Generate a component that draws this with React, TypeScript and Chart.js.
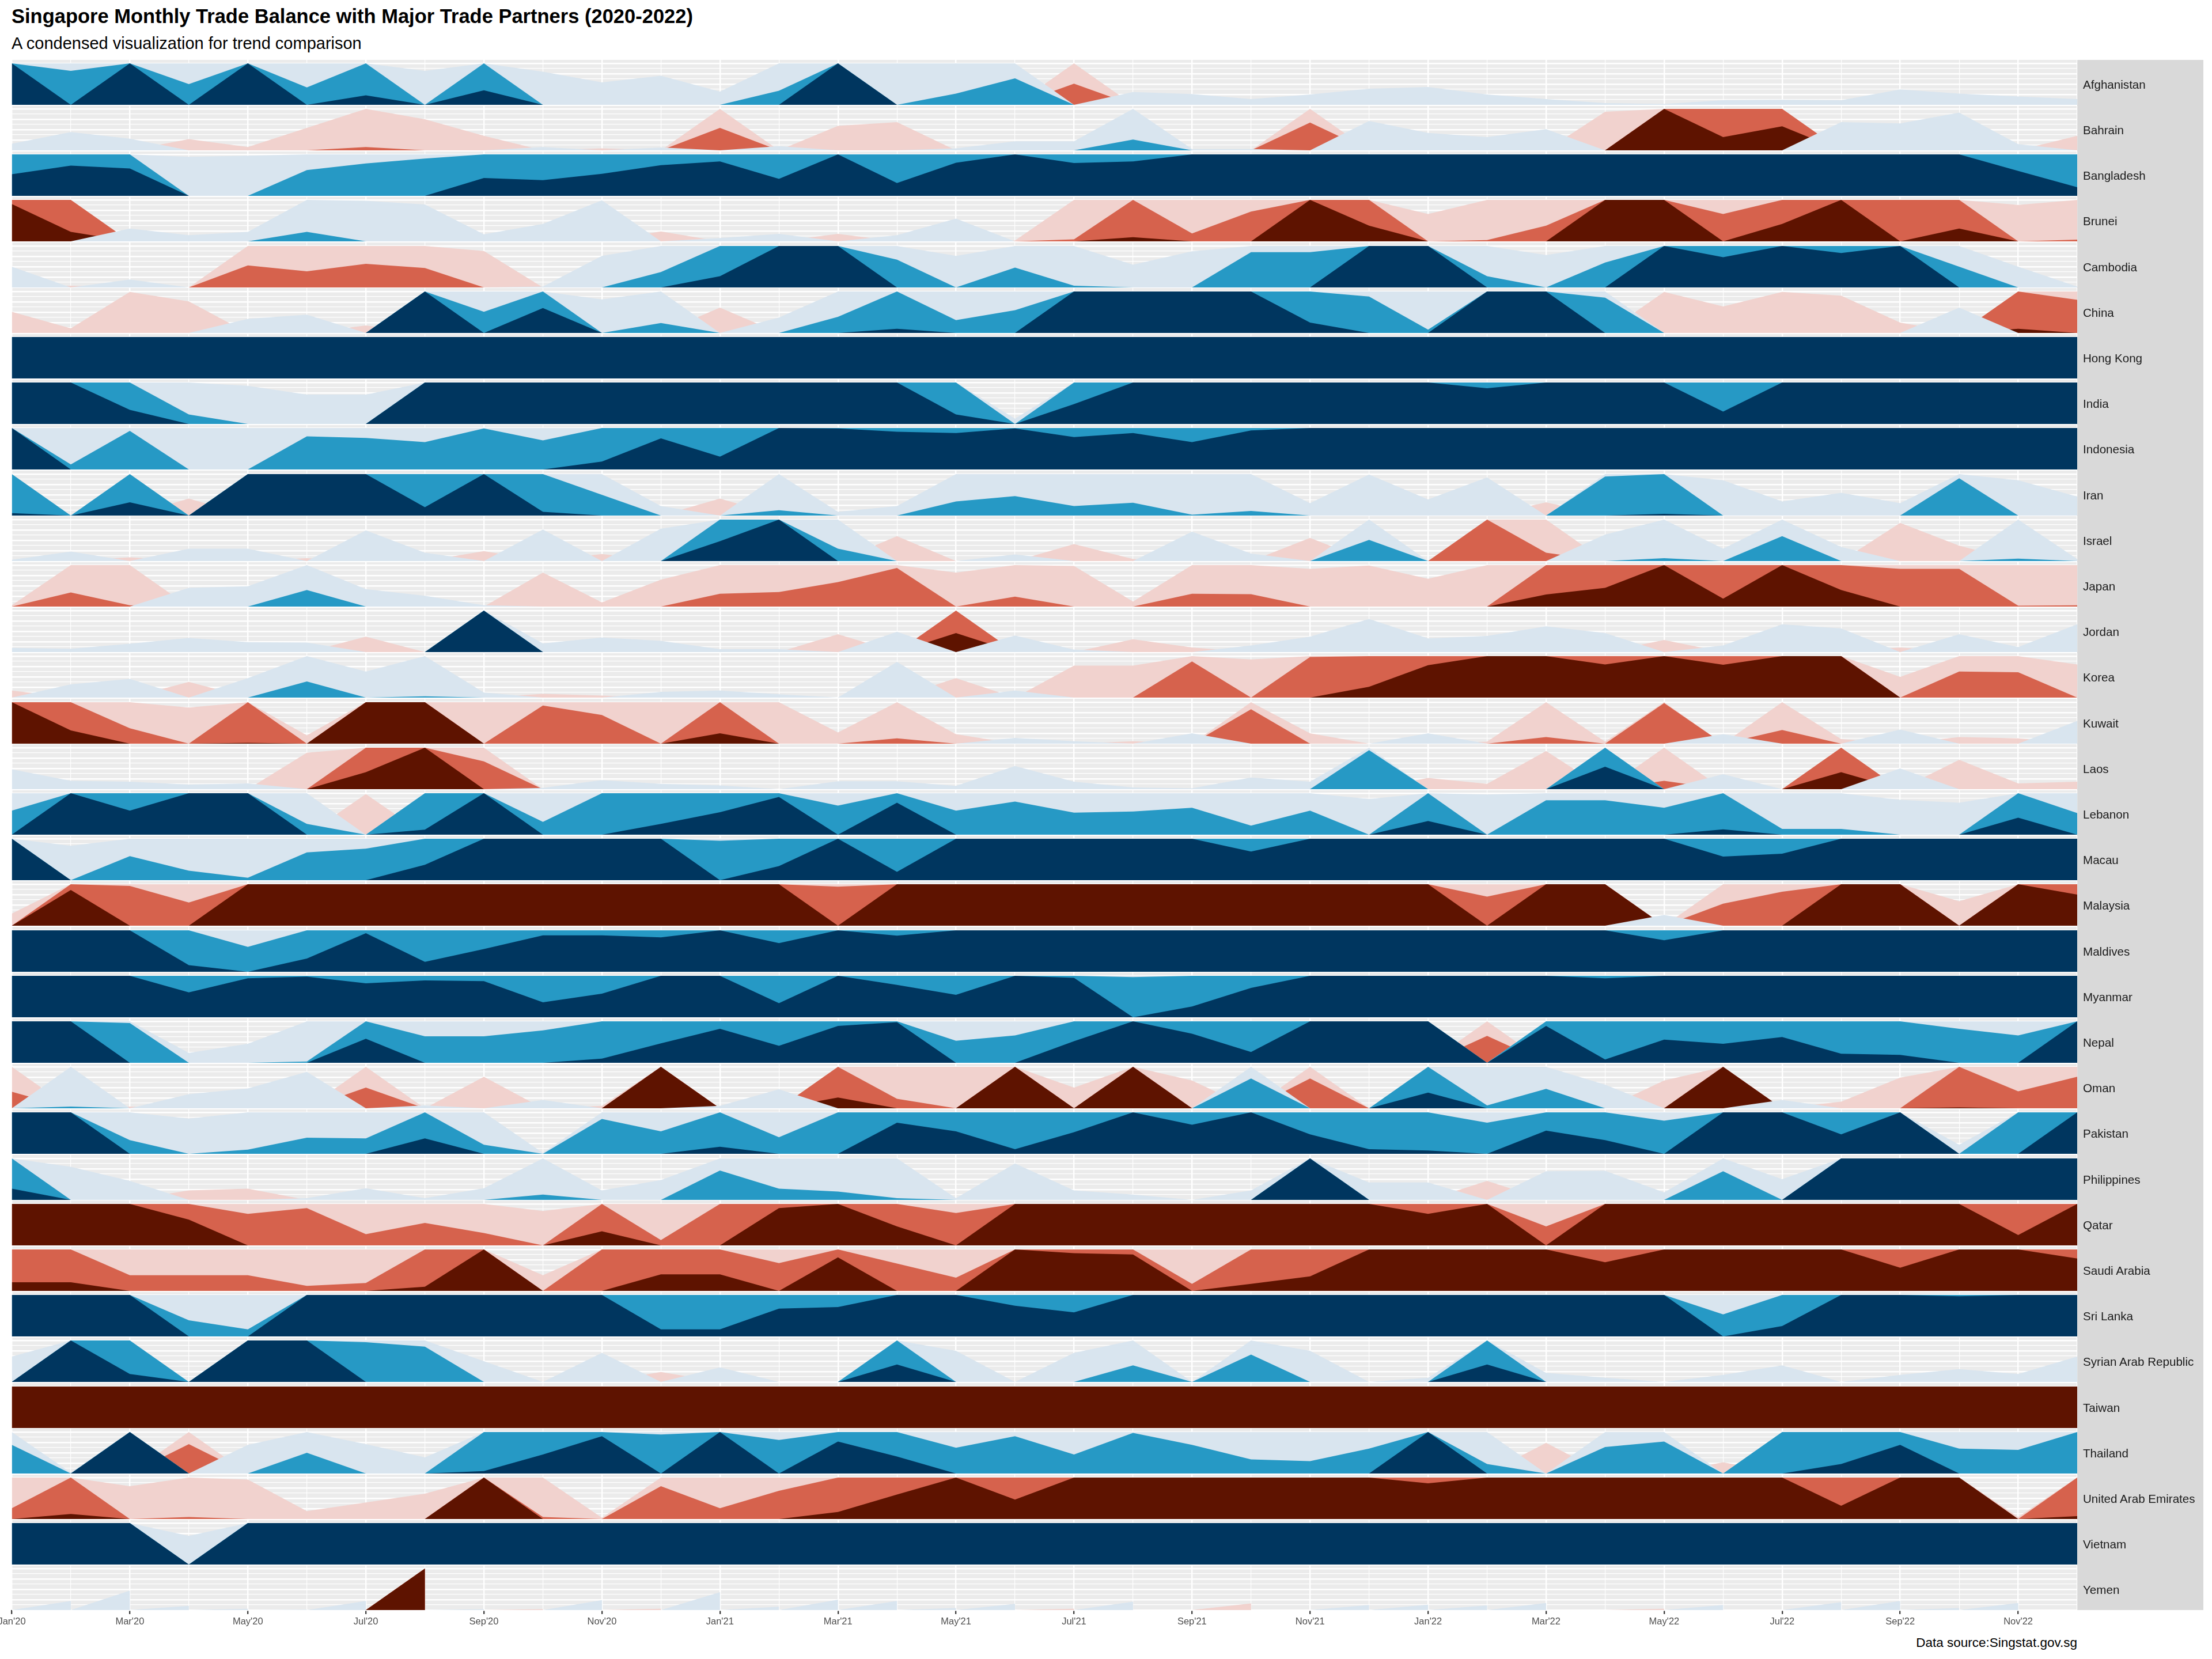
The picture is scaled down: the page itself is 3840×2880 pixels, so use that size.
import { useEffect, useRef } from 'react';
import { Chart, registerables } from 'chart.js';

Chart.register(...registerables);

const FONT = "'Liberation Sans', Arial, Helvetica, sans-serif";
Chart.defaults.font.family = FONT;

// one point per month, Jan'20 .. Dec'22
const monthLabels = [
  "Jan'20", "Feb'20", "Mar'20", "Apr'20", "May'20", "Jun'20", "Jul'20", "Aug'20", "Sep'20", "Oct'20", "Nov'20", "Dec'20",
  "Jan'21", "Feb'21", "Mar'21", "Apr'21", "May'21", "Jun'21", "Jul'21", "Aug'21", "Sep'21", "Oct'21", "Nov'21", "Dec'21",
  "Jan'22", "Feb'22", "Mar'22", "Apr'22", "May'22", "Jun'22", "Jul'22", "Aug'22", "Sep'22", "Oct'22", "Nov'22", "Dec'22",
];

const tickLabels = [
  "Jan'20", "Mar'20", "May'20", "Jul'20", "Sep'20", "Nov'20",
  "Jan'21", "Mar'21", "May'21", "Jul'21", "Sep'21", "Nov'21",
  "Jan'22", "Mar'22", "May'22", "Jul'22", "Sep'22", "Nov'22",
];

// trade balance per month in horizon band units (+ surplus / - deficit, |v| >= 3 is the top band)
const afghanistan = [3, 1.82, 3, 1.5, 3, 1.42, 2.23, 0.82, 2.35, 0.8, 0.54, 0.7, 0.32, 1.34, 3, 1.0, 1.27, 1.64, -1.51, 0.31, 0.26, 0.14, 0.25, 0.39, 0.43, 0.25, 0.14, 0.04, 0.02, 0.11, 0.12, 0.11, 0.37, 0.27, 0.2, 0.14];
const bahrain = [0.16, 0.44, 0.28, -0.27, -0.08, -0.54, -1.08, -0.75, -0.35, 0.08, -0.05, 0.07, -1.54, 0.1, -0.59, -0.68, 0.05, 0.22, 0.22, 1.26, 0.03, 0.03, -1.67, 0.71, 0.42, 0.32, 0.51, -0.93, -3, -2.32, -2.58, 0.68, 0.65, 0.91, 0.15, -0.35];
const bangladesh = [2.52, 2.73, 2.66, 0.94, 0.97, 1.62, 1.78, 1.9, 2.43, 2.38, 2.53, 2.74, 2.83, 2.41, 3, 2.31, 2.8, 3, 2.79, 2.83, 3, 3, 3, 3, 3, 3, 3, 3, 3, 3, 3, 3, 3, 3, 2.6, 2.21];
const brunei = [-2.9, -2.23, 0.31, 0.15, 0.23, 1.23, 0.98, 0.89, 0.17, 0.42, 0.99, -0.24, 0.08, 0.18, -0.18, 0.15, 0.55, -0.02, -1.05, -2.1, -1.19, -1.72, -3, -2.38, -0.66, -1.03, -1.38, -3, -3, -1.66, -2.42, -3, -2.0, -2.31, -0.88, -1.04];
const cambodia = [0.5, -0.04, 0.19, 0.0, -1.53, -1.39, -1.57, -1.47, -0.88, 0.02, 0.76, 1.37, 2.27, 3, 3, 1.67, 0.76, 1.48, 1.04, 0.55, 0.87, 1.85, 1.85, 3, 3, 1.27, 0.78, 1.6, 3, 2.73, 3, 2.83, 3, 1.5, 0.5, 0.02];
const china = [-0.51, -0.11, -0.99, -0.76, 0.34, 0.44, -0.18, 3, 1.51, 2.6, 0.81, 1.24, -0.61, 0.37, 1.39, 2.1, 1.31, 1.55, 3, 3, 3, 3, 2.25, 1.88, 1.08, 3, 3, 1.85, -0.99, -0.64, -0.99, -0.9, -0.25, 0.61, -2.1, -1.8];
const hongKong = [3, 3, 3, 3, 3, 3, 3, 3, 3, 3, 3, 3, 3, 3, 3, 3, 3, 3, 3, 3, 3, 3, 3, 3, 3, 3, 3, 3, 3, 3, 3, 3, 3, 3, 3, 3];
const india = [3, 3, 2.34, 1.23, 0.92, 0.71, 0.71, 3, 3, 3, 3, 3, 3, 3, 3, 3, 2.23, 0.13, 2.48, 3, 3, 3, 3, 3, 3, 2.86, 3, 3, 3, 2.3, 3, 3, 3, 3, 3, 3];
const indonesia = [3, 1.12, 1.93, 1.0, 1.0, 1.8, 1.76, 1.66, 1.99, 1.7, 2.19, 2.75, 2.31, 3, 2.99, 2.91, 2.88, 2.99, 2.78, 2.88, 2.66, 2.94, 3, 3, 3, 3, 3, 3, 3, 3, 3, 3, 3, 3, 3, 3];
const iran = [2.06, 0.0, 2.32, -0.41, 3, 3, 3, 2.2, 3, 2.09, 1.5, 0.23, -0.41, 1.13, 0.09, 0.23, 1.34, 1.47, 1.23, 1.31, 1.02, 1.11, 0.3, 0.99, 0.39, 0.92, -0.32, 1.94, 2.04, 0.85, 0.34, 0.55, 0.3, 1.9, 0.85, 0.46];
const israel = [0.03, 0.23, -0.09, 0.3, 0.3, -0.07, 0.74, 0.2, -0.24, 0.76, -0.17, 0.78, 2.48, 3, 1.3, -0.6, 0.0, 0.16, -0.41, -0.05, 0.71, 0.18, -0.56, 1.51, 0.0, -2.0, -1.2, 0.64, 1.07, 0.3, 1.6, 0.34, -0.92, -0.37, 1.06, 0.05];
const japan = [-0.03, -1.34, -1.03, 0.45, 0.49, 1.4, 0.42, 0.26, 0.03, -0.82, -0.1, -0.65, -1.31, -1.35, -1.59, -1.93, -0.82, -1.24, -0.98, -0.12, -1.31, -1.3, -0.91, -0.99, -0.67, -1.0, -2.29, -2.45, -3, -2.19, -3, -2.4, -1.91, -1.91, -1.02, -1.03];
const jordan = [0.1, 0.08, 0.2, 0.34, 0.24, 0.23, -0.37, 0.0, 3, 0.21, 0.35, 0.27, 0.07, 0.07, -0.43, 0.49, -2.46, 0.4, 0.06, -0.31, -0.11, 0.16, 0.37, 0.8, 0.33, 0.39, 0.62, 0.46, -0.29, 0.16, 0.67, 0.57, -0.11, 0.43, 0.12, 0.67];
const korea = [-0.17, 0.32, 0.45, -0.38, 0.47, 1.39, 0.63, 1.03, 0.12, -0.09, -0.05, 0.14, 0.17, 0.08, 0.0, 0.86, -0.47, 0.17, -0.77, -0.77, -1.87, -0.92, -1.98, -2.26, -2.78, -3, -3, -2.8, -3, -2.79, -3, -3, -0.5, -1.63, -1.61, -0.8];
const kuwait = [-3, -2.32, -1.37, -0.87, -2.02, -0.2, -3, -3, -1.0, -1.92, -1.69, -1.0, -2.25, -1.0, -0.27, -1.13, -0.23, 0.14, 0.06, -0.06, 0.25, -1.83, -0.25, 0.0, 0.25, -0.05, -1.16, -0.05, -1.98, 0.23, -1.33, -0.11, 0.34, -0.16, -0.13, 0.55];
const laos = [0.48, 0.2, 0.18, 0.11, 0.14, -0.88, -2.41, -3, -1.67, 0.03, 0.22, 0.13, 0.09, 0.0, 0.19, 0.19, 0.08, 0.56, 0.18, 0.04, 0.02, 0.28, 0.18, 1.94, -0.27, -0.13, -0.92, 2.54, -1.2, 0.36, 0.0, -2.41, 0.5, -0.71, -0.14, -0.18];
const lebanon = [1.58, 3, 2.58, 3, 3, 1.26, -0.98, 2.12, 3, 1.31, 2.0, 2.26, 2.54, 2.91, 1.7, 2.77, 1.58, 1.8, 1.53, 1.56, 1.65, 1.22, 1.58, 0.86, 2.33, 0.97, 1.83, 1.83, 1.65, 2.13, 1.14, 1.14, 0.84, 0.77, 2.41, 1.52];
const macau = [3, 0.83, 1.58, 1.23, 1.06, 1.67, 1.76, 2.37, 3, 3, 3, 3, 1.95, 2.34, 3, 2.2, 3, 3, 3, 3, 3, 2.69, 3, 3, 3, 3, 3, 3, 3, 2.57, 2.64, 3, 3, 3, 3, 3];
const malaysia = [-0.29, -2.86, -1.96, -1.56, -3, -3, -3, -3, -3, -3, -3, -3, -3, -3, -1.94, -3, -3, -3, -3, -3, -3, -3, -3, -3, -3, -1.7, -3, -3, 0.26, -1.53, -1.82, -3, -3, -0.59, -3, -2.75];
const maldives = [3, 3, 3, 2.16, 1.6, 2.32, 2.93, 2.24, 2.55, 2.88, 2.88, 2.83, 3, 2.69, 3, 2.87, 3, 3, 3, 3, 3, 3, 3, 3, 3, 3, 3, 3, 2.76, 3, 3, 3, 3, 3, 3, 3];
const myanmar = [3, 3, 3, 2.6, 2.94, 2.98, 2.82, 2.89, 2.87, 2.36, 2.57, 3, 3, 2.34, 3, 2.78, 2.54, 3, 2.95, 1.97, 2.26, 2.71, 3, 3, 3, 3, 3, 2.94, 3, 3, 3, 3, 3, 3, 3, 3];
const nepal = [3, 3, 1.96, 0.24, 0.46, 1.03, 2.58, 1.64, 1.64, 1.78, 2.1, 2.47, 2.82, 2.41, 2.89, 2.98, 1.53, 1.66, 2.52, 3, 2.7, 2.26, 3, 3, 3, -1.65, 2.89, 2.08, 2.56, 2.46, 2.62, 2.22, 2.19, 1.82, 1.66, 3];
const oman = [-1.4, 1.04, -0.04, 0.34, 0.48, 0.88, -1.5, 0.07, -0.76, 0.2, -0.06, -3, 0.06, 0.46, -2.26, -1.23, -1.0, -3, -0.5, -3, -0.67, 1.72, -1.72, 0.0, 2.38, 1.07, 1.47, 0.57, -0.67, -3, 0.2, -0.16, -0.74, -2.02, -1.41, -1.76];
const pakistan = [3, 3, 1.33, 0.85, 1.1, 1.39, 1.37, 2.37, 1.22, 0.02, 1.84, 1.54, 2.17, 1.4, 2.0, 2.75, 2.54, 2.11, 2.52, 3, 2.7, 3, 2.47, 2.11, 2.08, 1.75, 2.56, 2.33, 1.8, 3, 3, 2.47, 3, 0.22, 2.0, 3];
const philippines = [2.27, 0.8, 0.46, -0.23, -0.27, 0.04, 0.28, 0.04, 0.28, 1.13, 0.23, 0.48, 1.71, 1.27, 1.2, 1.04, 0.04, 0.88, 0.23, 0.13, 0.0, 0.23, 3, 0.42, 0.42, -0.46, 0.69, 0.7, 0.18, 1.69, 0.5, 3, 3, 3, 3, 3];
const qatar = [-3, -3, -3, -2.62, -1.76, -1.9, -1.27, -1.54, -1.3, -0.83, -2.34, -1.13, -2.0, -2.9, -3, -2.46, -1.78, -3, -3, -3, -3, -3, -3, -3, -2.76, -3, -1.46, -3, -3, -3, -3, -3, -3, -3, -2.25, -3];
const saudiArabia = [-2.21, -2.21, -1.38, -1.38, -1.38, -1.12, -1.19, -2.1, -3, -0.38, -2.0, -2.4, -2.4, -1.67, -2.81, -1.66, -1.32, -3, -2.91, -2.88, -1.17, -2.17, -2.35, -3, -3, -3, -3, -2.69, -3, -3, -3, -3, -2.56, -3, -3, -2.78];
const sriLanka = [3, 3, 3, 1.39, 1.17, 3, 3, 3, 3, 3, 3, 2.17, 2.17, 2.67, 2.71, 3, 3, 2.74, 2.58, 3, 3, 3, 3, 3, 3, 3, 3, 3, 3, 1.53, 2.25, 3, 3, 2.97, 3, 3];
const syria = [0.61, 3, 2.19, 0.0, 3, 3, 1.96, 1.85, 0.5, 0.0, 0.7, -0.24, 0.35, 0.0, 0.0, 2.42, 0.75, 0.0, 0.7, 1.4, 0.0, 1.66, 0.75, 0.0, 0.1, 2.42, 0.22, 0.1, 0.0, 0.17, 0.4, 0.0, 0.17, 0.31, 0.19, 0.61];
const taiwan = [-3, -3, -3, -3, -3, -3, -3, -3, -3, -3, -3, -3, -3, -3, -3, -3, -3, -3, -3, -3, -3, -3, -3, -3, -3, -3, -3, -3, -3, -3, -3, -3, -3, -3, -3, -3];
const thailand = [1.69, 0.02, 3, -1.71, 0.69, 1.5, 0.71, 0.39, 2.06, 2.46, 2.9, 1.94, 3, 1.81, 2.77, 2.41, 1.62, 1.9, 1.46, 1.98, 1.69, 1.34, 1.3, 1.6, 3, 1.23, -0.74, 1.64, 1.77, -0.27, 2.0, 2.23, 2.69, 1.6, 1.57, 2.0];
const uae = [-1.26, -2.12, -0.79, -1.05, -0.95, -0.19, -0.4, -0.61, -3, -1.05, -0.03, -1.79, -1.26, -1.68, -2.17, -2.59, -3, -2.47, -3, -3, -3, -3, -3, -3, -2.86, -3, -3, -3, -3, -3, -3, -2.32, -3, -3, -0.05, -2.07];
const vietnam = [3, 3, 3, 0.69, 3, 3, 3, 3, 3, 3, 3, 3, 3, 3, 3, 3, 3, 3, 3, 3, 3, 3, 3, 3, 3, 3, 3, 3, 3, 3, 3, 3, 3, 3, 3, 3];
// Yemen is reported month by month (each month ramps up from zero)
const yemen = [0, 0.22, 0.47, 0.1, 0.03, 0.01, 0.22, -3, 0.02, -0.02, 0.24, -0.03, 0.43, 0.08, 0.25, 0.22, 0.05, 0.15, -0.03, 0.2, 0, -0.16, 0, 0.12, 0.13, 0.11, 0.17, 0, -0.03, 0.12, 0, 0.19, 0.22, 0.05, 0.17, 0];

const countries = [
  'Afghanistan', 'Bahrain', 'Bangladesh', 'Brunei', 'Cambodia', 'China', 'Hong Kong', 'India', 'Indonesia',
  'Iran', 'Israel', 'Japan', 'Jordan', 'Korea', 'Kuwait', 'Laos', 'Lebanon', 'Macau', 'Malaysia', 'Maldives',
  'Myanmar', 'Nepal', 'Oman', 'Pakistan', 'Philippines', 'Qatar', 'Saudi Arabia', 'Sri Lanka',
  'Syrian Arab Republic', 'Taiwan', 'Thailand', 'United Arab Emirates', 'Vietnam', 'Yemen',
];

const countrySeries = [
  afghanistan, bahrain, bangladesh, brunei, cambodia, china, hongKong, india, indonesia,
  iran, israel, japan, jordan, korea, kuwait, laos, lebanon, macau, malaysia, maldives,
  myanmar, nepal, oman, pakistan, philippines, qatar, saudiArabia, sriLanka,
  syria, taiwan, thailand, uae, vietnam, yemen,
];

// layout (page pixels)
const PAGE_W = 3840;
const PAGE_H = 2880;
const PLOT_LEFT = 20.5;
const PLOT_RIGHT = 3606;
const STRIP_RIGHT = 3825;
const PANEL_TOP = 104.3;
const PANEL_PITCH = 79.2;
const PANEL_HEIGHT = 77.4;
const DATA_HEIGHT = 72;
const AXIS_HEIGHT = 40;

const PANEL_BG = '#EBEBEB';
const STRIP_BG = '#D9D9D9';

// drawn bottom -> top: reds first, blues over them
const bands = [
  { sign: -1, level: 0, color: '#F1D2CE', order: 5 },
  { sign: -1, level: 1, color: '#D6624D', order: 4 },
  { sign: -1, level: 2, color: '#5E1300', order: 3 },
  { sign: 1, level: 0, color: '#D9E5EF', order: 2 },
  { sign: 1, level: 1, color: '#2699C5', order: 1 },
  { sign: 1, level: 2, color: '#00365F', order: 0 },
];

function bandValue(v: number, sign: number, level: number) {
  return Math.min(1, Math.max(0, sign * v - level));
}

function bandPoints(values: number[], sign: number, level: number, ramped: boolean) {
  if (!ramped) {
    return values.map((v, m) => ({ x: m, y: bandValue(v, sign, level) }));
  }
  const pts = [{ x: 0, y: 0 }];
  values.forEach((v, m) => {
    if (m > 0) pts.push({ x: m, y: bandValue(v, sign, level) }, { x: m, y: 0 });
  });
  return pts;
}

const panelBackground = {
  id: 'panelBackground',
  beforeDraw(chart: any) {
    const { ctx, chartArea } = chart;
    ctx.save();
    ctx.fillStyle = PANEL_BG;
    ctx.fillRect(chartArea.left, chartArea.top, chartArea.right - chartArea.left, chartArea.bottom - chartArea.top);
    ctx.restore();
  },
};

const isEighth = (v: number) => Math.abs(v * 8 - Math.round(v * 8)) < 1e-6;
const isQuarter = (v: number) => Math.abs(v * 4 - Math.round(v * 4)) < 1e-6;

interface PanelProps {
  values: number[];
  index: number;
  last: boolean;
  ramped: boolean;
}

function HorizonPanel({ values, index, last, ramped }: PanelProps) {
  const canvasRef = useRef<HTMLCanvasElement>(null);
  const top = Math.round(PANEL_TOP + index * PANEL_PITCH);
  const panelH = Math.round(PANEL_TOP + index * PANEL_PITCH + PANEL_HEIGHT) - top;
  const canvasH = panelH + (last ? AXIS_HEIGHT : 0);

  useEffect(() => {
    if (!canvasRef.current) return;

    const datasets = bands.map((b) => ({
      data: bandPoints(values, b.sign, b.level, ramped),
      backgroundColor: b.color,
      borderColor: b.color,
      borderWidth: 0,
      pointRadius: 0,
      tension: 0,
      fill: 'origin',
      order: b.order,
    }));

    const chart = new Chart(canvasRef.current, {
      type: 'line',
      data: { datasets },
      options: {
        animation: false,
        responsive: false,
        events: [],
        layout: { padding: { left: PLOT_LEFT, right: PAGE_W - PLOT_RIGHT, top: 0, bottom: 0 } },
        plugins: {
          legend: { display: false },
          tooltip: { enabled: false },
        },
        scales: {
          x: {
            type: 'linear',
            min: 0,
            max: monthLabels.length - 1,
            border: { display: false },
            grid: {
              color: '#FFFFFF',
              lineWidth: (ctx: any) => (ctx.tick && ctx.tick.value % 2 === 0 ? 2.4 : 1.2),
              drawTicks: last,
              tickLength: 7,
              tickWidth: 2.2,
              tickColor: (ctx: any) => (ctx.tick && ctx.tick.value % 2 === 0 ? '#333333' : 'rgba(0,0,0,0)'),
            },
            ticks: {
              display: last,
              stepSize: 1,
              autoSkip: false,
              maxRotation: 0,
              minRotation: 0,
              padding: 4,
              color: '#4D4D4D',
              font: { size: 16.5, family: FONT },
              callback: (value: any) => (value % 2 === 0 ? tickLabels[value / 2] : ''),
            },
            afterFit: (scale: any) => {
              scale.height = last ? AXIS_HEIGHT : 0;
              scale.paddingLeft = 0;
              scale.paddingRight = 0;
            },
          },
          y: {
            min: 0,
            max: panelH / DATA_HEIGHT,
            border: { display: false },
            grid: {
              drawTicks: false,
              color: (ctx: any) => (ctx.tick && isEighth(ctx.tick.value) ? '#FFFFFF' : 'rgba(0,0,0,0)'),
              lineWidth: (ctx: any) => (ctx.tick && isQuarter(ctx.tick.value) ? 2.4 : 1.2),
            },
            ticks: { display: false, stepSize: 0.125, includeBounds: false },
            afterFit: (scale: any) => {
              scale.width = 0;
              scale.paddingTop = 0;
              scale.paddingBottom = 0;
            },
          },
        },
      },
      plugins: [panelBackground],
    } as any);

    return () => {
      chart.destroy();
    };
  }, [values, last, ramped, panelH]);

  return (
    <div style={{ position: 'absolute', left: 0, top, width: PAGE_W, height: canvasH }}>
      <canvas ref={canvasRef} width={PAGE_W} height={canvasH} style={{ width: PAGE_W, height: canvasH, display: 'block' }} />
    </div>
  );
}

export default function App() {
  const stripTop = Math.round(PANEL_TOP);
  const stripBottom = Math.round(PANEL_TOP + (countries.length - 1) * PANEL_PITCH + PANEL_HEIGHT);

  return (
    <div
      style={{
        position: 'absolute',
        left: 0,
        top: 0,
        width: PAGE_W,
        height: PAGE_H,
        background: '#FFFFFF',
        overflow: 'hidden',
        fontFamily: FONT,
      }}
    >
      <div style={{ position: 'absolute', left: 20, top: 11, fontSize: 34.5, lineHeight: '34.5px', fontWeight: 'bold', color: '#000', whiteSpace: 'nowrap' }}>
        Singapore Monthly Trade Balance with Major Trade Partners (2020-2022)
      </div>
      <div style={{ position: 'absolute', left: 20, top: 60.5, fontSize: 29, lineHeight: '29px', color: '#000', whiteSpace: 'nowrap' }}>
        A condensed visualization for trend comparison
      </div>

      <div
        style={{
          position: 'absolute',
          left: PLOT_RIGHT,
          top: stripTop,
          width: STRIP_RIGHT - PLOT_RIGHT,
          height: stripBottom - stripTop,
          background: STRIP_BG,
        }}
      />

      {countries.map((name, i) => (
        <HorizonPanel
          key={name}
          values={countrySeries[i]}
          index={i}
          last={i === countries.length - 1}
          ramped={name === 'Yemen'}
        />
      ))}

      {countries.map((name, i) => {
        const top = Math.round(PANEL_TOP + i * PANEL_PITCH);
        const h = Math.round(PANEL_TOP + i * PANEL_PITCH + PANEL_HEIGHT) - top;
        return (
          <div
            key={'strip-' + name}
            style={{
              position: 'absolute',
              left: PLOT_RIGHT + 10,
              top: top + 3.5,
              height: h,
              display: 'flex',
              alignItems: 'center',
              fontSize: 20.6,
              color: '#1A1A1A',
              whiteSpace: 'nowrap',
            }}
          >
            {name}
          </div>
        );
      })}

      <div
        style={{
          position: 'absolute',
          right: PAGE_W - PLOT_RIGHT,
          top: 2841,
          fontSize: 22.5,
          lineHeight: '22.5px',
          color: '#000',
          whiteSpace: 'nowrap',
          textAlign: 'right',
        }}
      >
        Data source:Singstat.gov.sg
      </div>
    </div>
  );
}
